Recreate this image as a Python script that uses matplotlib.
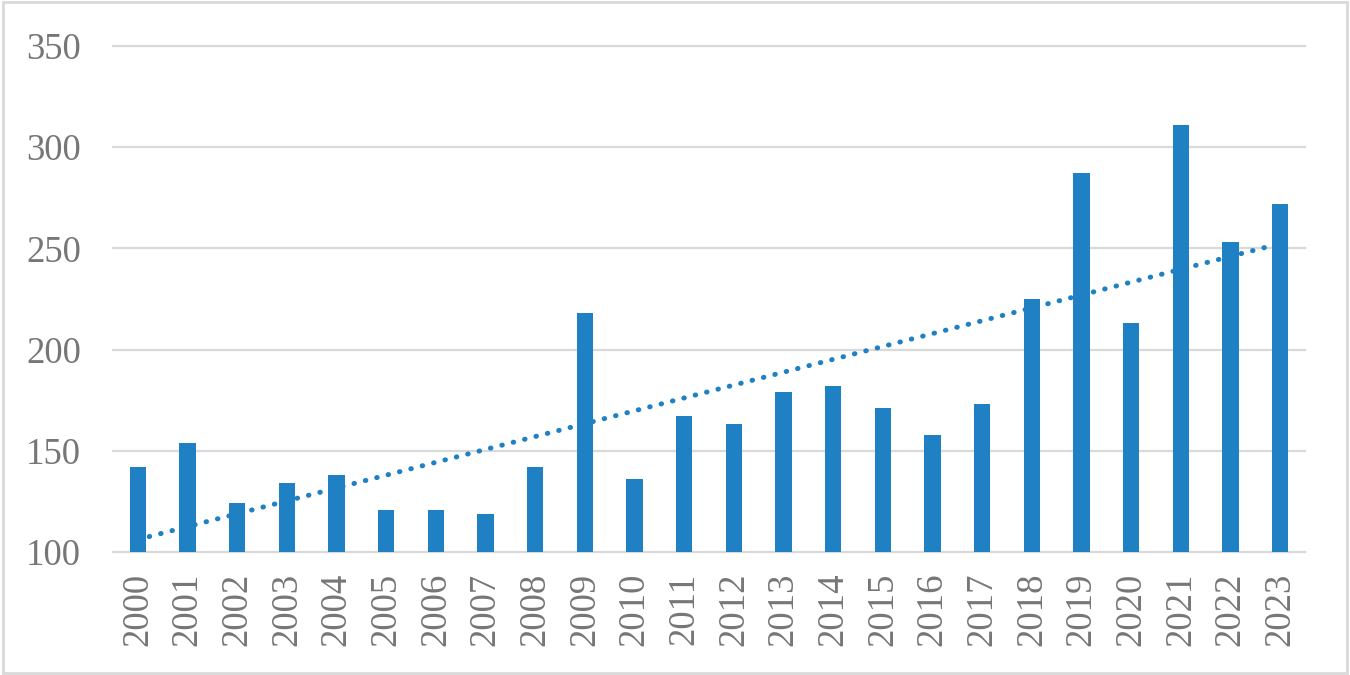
import numpy as np
import matplotlib.pyplot as plt
from matplotlib.patches import Rectangle

# Data
years = [str(y) for y in range(2000, 2024)]
values = [142, 154, 124, 134, 138, 121, 121, 119, 142, 218,
          136, 167, 163, 179, 182, 171, 158, 173, 225, 287,
          213, 311, 253, 272]
y_ticks = [100, 150, 200, 250, 300, 350]

bar_color = '#1f80c4'
grid_color = '#d9d9d9'
text_color = '#767676'

plt.rcParams['font.family'] = ['Liberation Serif', 'DejaVu Serif']

fig = plt.figure(figsize=(13.5, 6.75), dpi=100)
ax = fig.add_axes([0.0837, 0.1822, 0.883, 0.7497])

x = np.arange(len(years))
ax.bar(x, values, width=0.33, color=bar_color, zorder=3)

# linear trendline (Excel style) computed from the data
slope, intercept = np.polyfit(x, values, 1)
ax.plot(x, slope * x + intercept, color=bar_color, linewidth=3.6,
        linestyle=(0, (0.1, 2.25)), dash_capstyle='round', zorder=4)

ax.set_xlim(-0.5, len(years) - 0.5)
ax.set_ylim(100, 350)
ax.set_yticks(y_ticks)
ax.set_xticks(x)
ax.set_xticklabels(years, rotation=90)

for s in ax.spines.values():
    s.set_visible(False)
ax.yaxis.grid(True, color=grid_color, linewidth=1.6, zorder=0)
for gl in ax.get_ygridlines():
    gl.set_clip_on(False)

ax.tick_params(axis='both', length=0, labelsize=26.5, colors=text_color)
ax.tick_params(axis='y', pad=23)
ax.tick_params(axis='x', pad=15)

# light border round the whole chart
fig.patches.append(Rectangle((0.002, 0.003), 0.996, 0.994, transform=fig.transFigure,
                             fill=False, edgecolor=grid_color, linewidth=2))

plt.savefig('out.png', dpi=100)
